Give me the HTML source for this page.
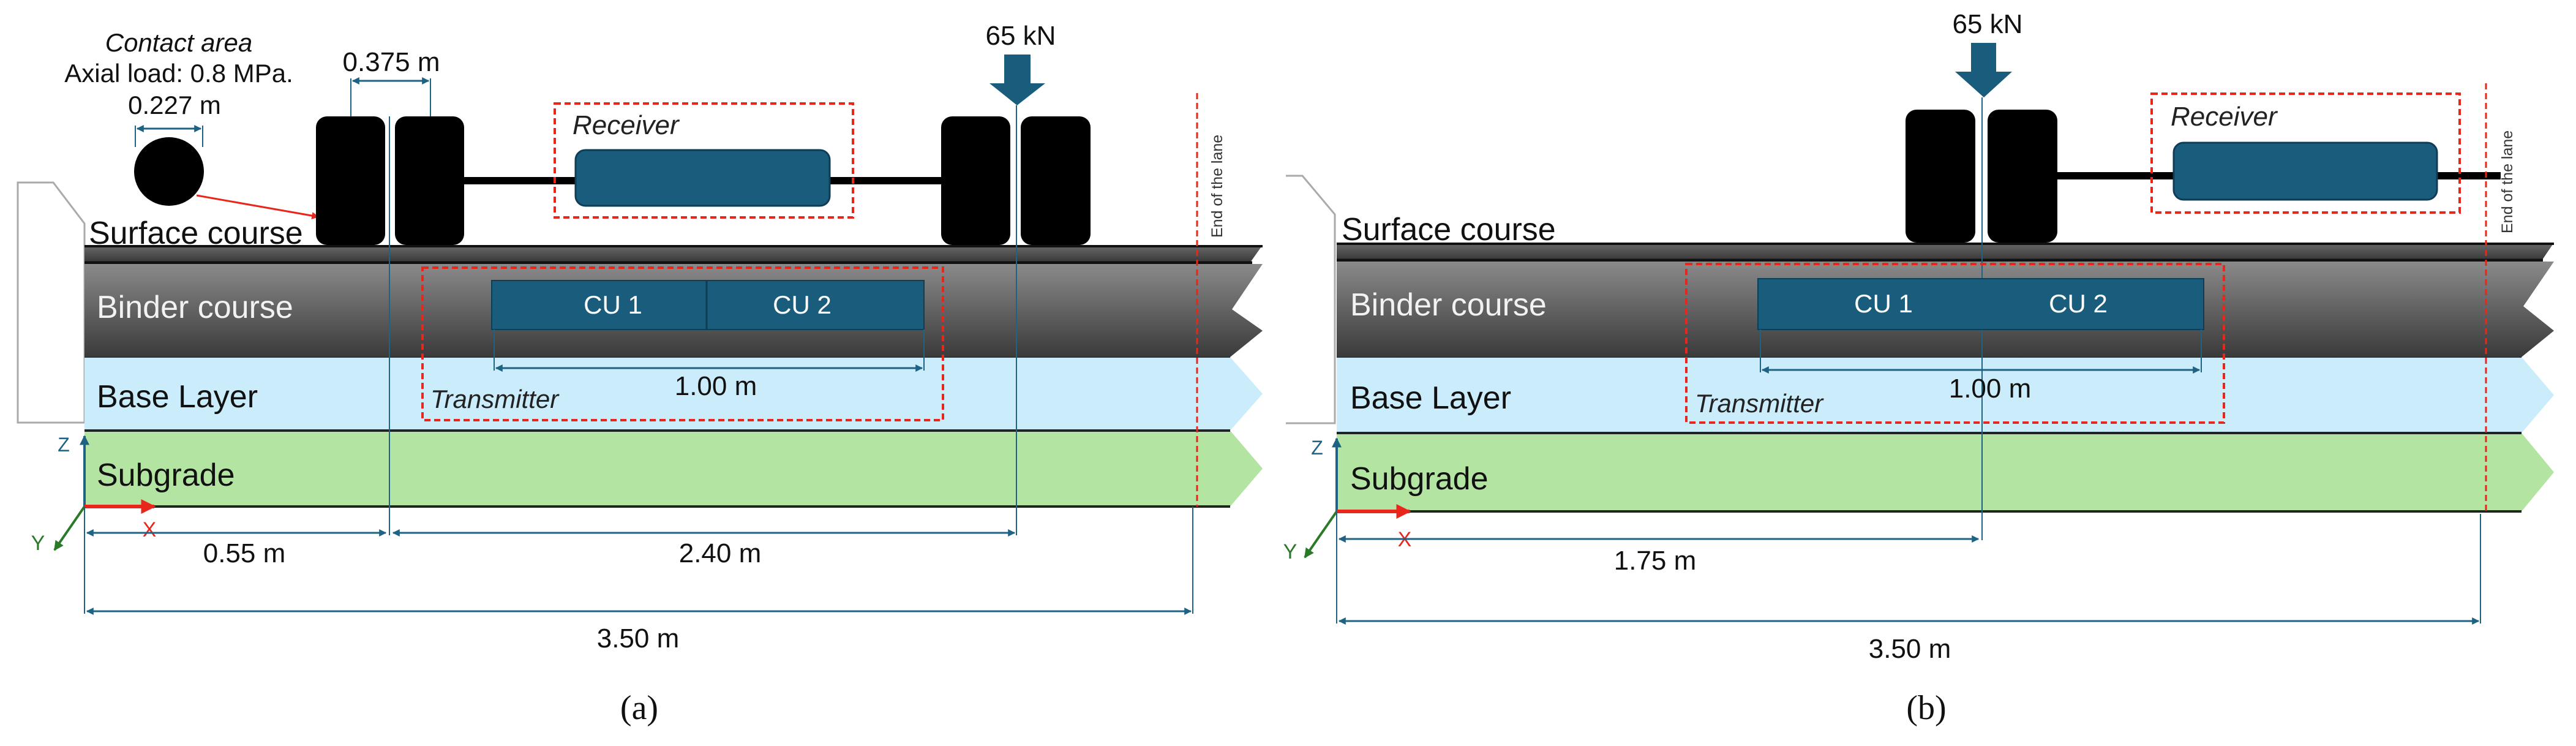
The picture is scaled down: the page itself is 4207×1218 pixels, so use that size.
<!DOCTYPE html>
<html><head><meta charset="utf-8"><style>html,body{margin:0;padding:0;background:#fff}svg{display:block}</style></head>
<body>
<svg width="4207" height="1218" viewBox="0 0 4207 1218" xmlns="http://www.w3.org/2000/svg" font-family="Liberation Sans, sans-serif">
<defs>
<linearGradient id="bg" x1="0" y1="0" x2="0" y2="1"><stop offset="0" stop-color="#8a8a8a"/><stop offset="1" stop-color="#3a3a3a"/></linearGradient>
<linearGradient id="sg" x1="0" y1="0" x2="0" y2="1"><stop offset="0" stop-color="#6a6a6a"/><stop offset="1" stop-color="#333"/></linearGradient>
<marker id="ar" viewBox="0 0 10 10" refX="9" refY="5" markerWidth="4" markerHeight="4" orient="auto-start-reverse"><path d="M0,0L10,5L0,10z" fill="#1f6384"/></marker>
<marker id="rr" viewBox="0 0 10 10" refX="9" refY="5" markerWidth="4" markerHeight="4" orient="auto"><path d="M0,0L10,5L0,10z" fill="#e8261c"/></marker>
<marker id="gr" viewBox="0 0 10 10" refX="9" refY="5" markerWidth="4" markerHeight="4" orient="auto"><path d="M0,0L10,5L0,10z" fill="#2a7a2a"/></marker>
<marker id="zr" viewBox="0 0 10 10" refX="9" refY="5" markerWidth="4" markerHeight="4" orient="auto"><path d="M0,0L10,5L0,10z" fill="#1f6384"/></marker>
</defs>

<!-- ============ PANEL A ============ -->
<path d="M29,298 L87,298 L138,365 L138,690 L29,690 Z" fill="#fff" stroke="#aaa" stroke-width="3"/>
<polygon points="138,400 2062,400 2040,431 138,431" fill="url(#sg)"/>
<line x1="138" y1="402" x2="2062" y2="402" stroke="#111" stroke-width="4"/>
<line x1="138" y1="429" x2="2045" y2="429" stroke="#111" stroke-width="5"/>
<polygon points="138,431 2062,431 2012,505 2062,540 2009,583 138,583" fill="url(#bg)"/>
<polygon points="138,583 2009,583 2062,643 2009,703 138,703" fill="#cbedfb"/>
<polygon points="138,703 2009,703 2062,765 2009,827 138,827" fill="#b3e4a1"/>
<line x1="138" y1="703" x2="2009" y2="703" stroke="#222" stroke-width="4"/>
<line x1="138" y1="827" x2="2009" y2="827" stroke="#222" stroke-width="4"/>
<line x1="138" y1="583" x2="2009" y2="583" stroke="#333" stroke-width="2"/>
<text x="145" y="398" font-size="52" fill="#111">Surface course</text>
<text x="158" y="519" font-size="52" fill="#f2f2f2">Binder course</text>
<text x="158" y="665" font-size="52" fill="#111">Base Layer</text>
<text x="158" y="793" font-size="52" fill="#111">Subgrade</text>
<text x="292" y="84" font-size="42" font-style="italic" text-anchor="middle" fill="#111">Contact area</text>
<text x="292" y="134" font-size="42" text-anchor="middle" fill="#111">Axial load: 0.8 MPa.</text>
<text x="285" y="186" font-size="42" text-anchor="middle" fill="#111">0.227 m</text>
<line x1="221" y1="205" x2="221" y2="240" stroke="#1f6384" stroke-width="2"/>
<line x1="331" y1="205" x2="331" y2="240" stroke="#1f6384" stroke-width="2"/>
<line x1="224" y1="210" x2="328" y2="210" stroke="#1f6384" stroke-width="3" marker-start="url(#ar)" marker-end="url(#ar)"/>
<ellipse cx="276" cy="280" rx="57" ry="56" fill="#000"/>
<line x1="321" y1="319" x2="520" y2="354" stroke="#e8261c" stroke-width="3" marker-end="url(#rr)"/>
<text x="639" y="116" font-size="44" text-anchor="middle" fill="#111">0.375 m</text>
<line x1="573" y1="128" x2="573" y2="190" stroke="#1f6384" stroke-width="2"/>
<line x1="703" y1="128" x2="703" y2="190" stroke="#1f6384" stroke-width="2"/>
<line x1="576" y1="132" x2="700" y2="132" stroke="#1f6384" stroke-width="3" marker-start="url(#ar)" marker-end="url(#ar)"/>
<rect x="758" y="289" width="779" height="12" fill="#000"/>
<rect x="516" y="190" width="113" height="210" rx="18" fill="#000"/>
<rect x="645" y="190" width="113" height="210" rx="18" fill="#000"/>
<rect x="1537" y="190" width="113" height="210" rx="18" fill="#000"/>
<rect x="1667" y="190" width="114" height="210" rx="18" fill="#000"/>
<rect x="940" y="245" width="415" height="91" rx="16" fill="#1a5c7c" stroke="#0f3d55" stroke-width="3"/>
<rect x="906" y="169" width="487" height="186" fill="none" stroke="#e8261c" stroke-width="4" stroke-dasharray="10,6"/>
<text x="935" y="219" font-size="44" font-style="italic" fill="#222">Receiver</text>
<text x="1667" y="73" font-size="44" text-anchor="middle" fill="#111">65 kN</text>
<polygon points="1640,89 1683,89 1683,136 1707,136 1661,172 1616,136 1640,136" fill="#1a5c7c"/>
<line x1="636" y1="190" x2="636" y2="874" stroke="#1f6384" stroke-width="2"/>
<line x1="1660" y1="172" x2="1660" y2="874" stroke="#1f6384" stroke-width="2"/>
<rect x="803" y="458" width="706" height="80" fill="#1a5c7c" stroke="#0f3d55" stroke-width="2"/>
<line x1="1154" y1="458" x2="1154" y2="538" stroke="#0f3d55" stroke-width="3"/>
<text x="1001" y="512" font-size="42" text-anchor="middle" fill="#fff">CU 1</text>
<text x="1310" y="512" font-size="42" text-anchor="middle" fill="#fff">CU 2</text>
<line x1="807" y1="538" x2="807" y2="605" stroke="#1f6384" stroke-width="2"/>
<line x1="1509" y1="538" x2="1509" y2="605" stroke="#1f6384" stroke-width="2"/>
<line x1="810" y1="601" x2="1506" y2="601" stroke="#1f6384" stroke-width="3" marker-start="url(#ar)" marker-end="url(#ar)"/>
<text x="1169" y="645" font-size="44" text-anchor="middle" fill="#111">1.00 m</text>
<rect x="690" y="437" width="850" height="249" fill="none" stroke="#e8261c" stroke-width="4" stroke-dasharray="10,6"/>
<text x="703" y="666" font-size="42" font-style="italic" fill="#222">Transmitter</text>
<line x1="1955" y1="152" x2="1955" y2="827" stroke="#e8261c" stroke-width="3" stroke-dasharray="10,6"/>
<text transform="translate(1996,388) rotate(-90)" font-size="25" fill="#333">End of the lane</text>
<line x1="138" y1="827" x2="138" y2="712" stroke="#1f6384" stroke-width="4" marker-end="url(#zr)"/>
<text x="104" y="737" font-size="32" fill="#1f6384" text-anchor="middle">Z</text>
<line x1="138" y1="827" x2="252" y2="827" stroke="#e8261c" stroke-width="6" marker-end="url(#rr)"/>
<text x="244" y="876" font-size="34" fill="#e8261c" text-anchor="middle">X</text>
<line x1="138" y1="827" x2="89" y2="898" stroke="#2a7a2a" stroke-width="4" marker-end="url(#gr)"/>
<text x="62" y="898" font-size="34" fill="#2a7a2a" text-anchor="middle">Y</text>
<line x1="138" y1="827" x2="138" y2="1002" stroke="#1f6384" stroke-width="2"/>
<line x1="1948" y1="827" x2="1948" y2="1002" stroke="#1f6384" stroke-width="2"/>
<line x1="142" y1="870" x2="630" y2="870" stroke="#1f6384" stroke-width="3" marker-start="url(#ar)" marker-end="url(#ar)"/>
<line x1="642" y1="870" x2="1657" y2="870" stroke="#1f6384" stroke-width="3" marker-start="url(#ar)" marker-end="url(#ar)"/>
<text x="399" y="918" font-size="44" text-anchor="middle" fill="#111">0.55 m</text>
<text x="1176" y="918" font-size="44" text-anchor="middle" fill="#111">2.40 m</text>
<line x1="142" y1="998" x2="1945" y2="998" stroke="#1f6384" stroke-width="3" marker-start="url(#ar)" marker-end="url(#ar)"/>
<text x="1042" y="1057" font-size="44" text-anchor="middle" fill="#111">3.50 m</text>
<text x="1044" y="1174" font-size="56" text-anchor="middle" font-family="Liberation Serif, serif" fill="#111">(a)</text>

<!-- ============ PANEL B ============ -->
<path d="M2100,287 L2127,287 L2180,350 L2180,691 L2100,691" fill="#fff" stroke="#aaa" stroke-width="3"/>
<polygon points="2183,396 4171,396 4150,427 2183,427" fill="url(#sg)"/>
<line x1="2183" y1="398" x2="4171" y2="398" stroke="#111" stroke-width="4"/>
<line x1="2183" y1="425" x2="4153" y2="425" stroke="#111" stroke-width="5"/>
<polygon points="2183,427 4171,427 4121,500 4171,540 4118,583 2183,583" fill="url(#bg)"/>
<polygon points="2183,583 4118,583 4171,645 4118,707 2183,707" fill="#cbedfb"/>
<polygon points="2183,707 4118,707 4171,771 4118,835 2183,835" fill="#b3e4a1"/>
<line x1="2183" y1="707" x2="4118" y2="707" stroke="#222" stroke-width="4"/>
<line x1="2183" y1="835" x2="4118" y2="835" stroke="#222" stroke-width="4"/>
<line x1="2183" y1="583" x2="4118" y2="583" stroke="#333" stroke-width="2"/>
<text x="2191" y="392" font-size="52" fill="#111">Surface course</text>
<text x="2205" y="515" font-size="52" fill="#f2f2f2">Binder course</text>
<text x="2205" y="667" font-size="52" fill="#111">Base Layer</text>
<text x="2205" y="799" font-size="52" fill="#111">Subgrade</text>
<rect x="3360" y="281" width="724" height="12" fill="#000"/>
<rect x="3112" y="179" width="114" height="217" rx="18" fill="#000"/>
<rect x="3246" y="179" width="114" height="217" rx="18" fill="#000"/>
<rect x="3550" y="233" width="430" height="93" rx="16" fill="#1a5c7c" stroke="#0f3d55" stroke-width="3"/>
<rect x="3514" y="153" width="503" height="194" fill="none" stroke="#e8261c" stroke-width="4" stroke-dasharray="10,6"/>
<text x="3545" y="205" font-size="44" font-style="italic" fill="#222">Receiver</text>
<text x="3246" y="54" font-size="44" text-anchor="middle" fill="#111">65 kN</text>
<polygon points="3219,70 3260,70 3260,117 3286,117 3240,159 3193,117 3219,117" fill="#1a5c7c"/>
<line x1="3237" y1="159" x2="3237" y2="882" stroke="#1f6384" stroke-width="2"/>
<rect x="2871" y="455" width="728" height="83" fill="#1a5c7c" stroke="#0f3d55" stroke-width="2"/>
<text x="3076" y="510" font-size="42" text-anchor="middle" fill="#fff">CU 1</text>
<text x="3394" y="510" font-size="42" text-anchor="middle" fill="#fff">CU 2</text>
<line x1="2875" y1="538" x2="2875" y2="608" stroke="#1f6384" stroke-width="2"/>
<line x1="3595" y1="538" x2="3595" y2="608" stroke="#1f6384" stroke-width="2"/>
<line x1="2878" y1="604" x2="3592" y2="604" stroke="#1f6384" stroke-width="3" marker-start="url(#ar)" marker-end="url(#ar)"/>
<text x="3250" y="649" font-size="44" text-anchor="middle" fill="#111">1.00 m</text>
<rect x="2754" y="431" width="878" height="259" fill="none" stroke="#e8261c" stroke-width="4" stroke-dasharray="10,6"/>
<text x="2768" y="673" font-size="42" font-style="italic" fill="#222">Transmitter</text>
<line x1="4060" y1="136" x2="4060" y2="839" stroke="#e8261c" stroke-width="3" stroke-dasharray="10,6"/>
<text transform="translate(4103,381) rotate(-90)" font-size="25" fill="#333">End of the lane</text>
<line x1="2183" y1="835" x2="2183" y2="716" stroke="#1f6384" stroke-width="4" marker-end="url(#zr)"/>
<text x="2151" y="742" font-size="32" fill="#1f6384" text-anchor="middle">Z</text>
<line x1="2183" y1="835" x2="2302" y2="835" stroke="#e8261c" stroke-width="6" marker-end="url(#rr)"/>
<text x="2294" y="892" font-size="34" fill="#e8261c" text-anchor="middle">X</text>
<line x1="2183" y1="835" x2="2131" y2="910" stroke="#2a7a2a" stroke-width="4" marker-end="url(#gr)"/>
<text x="2107" y="912" font-size="34" fill="#2a7a2a" text-anchor="middle">Y</text>
<line x1="2183" y1="835" x2="2183" y2="1018" stroke="#1f6384" stroke-width="2"/>
<line x1="4051" y1="839" x2="4051" y2="1018" stroke="#1f6384" stroke-width="2"/>
<line x1="2187" y1="880" x2="3231" y2="880" stroke="#1f6384" stroke-width="3" marker-start="url(#ar)" marker-end="url(#ar)"/>
<text x="2703" y="930" font-size="44" text-anchor="middle" fill="#111">1.75 m</text>
<line x1="2187" y1="1014" x2="4048" y2="1014" stroke="#1f6384" stroke-width="3" marker-start="url(#ar)" marker-end="url(#ar)"/>
<text x="3119" y="1074" font-size="44" text-anchor="middle" fill="#111">3.50 m</text>
<text x="3146" y="1174" font-size="56" text-anchor="middle" font-family="Liberation Serif, serif" fill="#111">(b)</text>
</svg>
</body></html>
